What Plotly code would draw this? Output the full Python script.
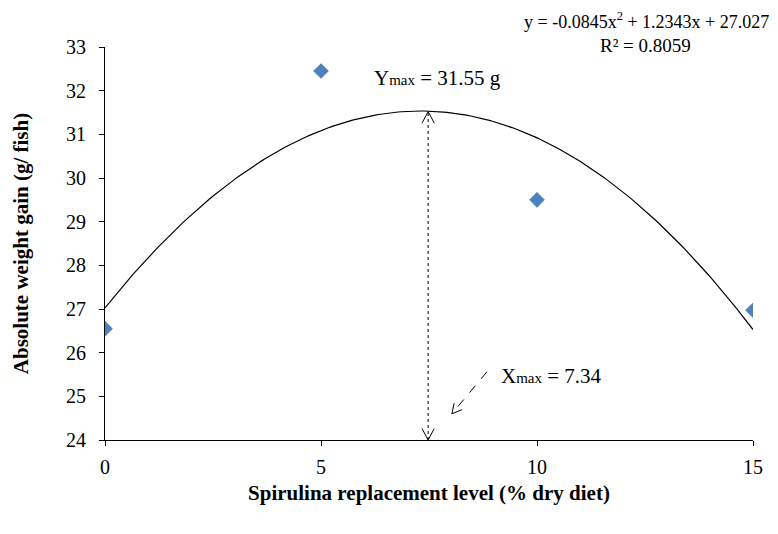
import numpy as np
import plotly.graph_objects as go

# Data
levels = [0, 5, 10, 15]
weight_gain = [26.55, 32.45, 29.5, 26.97]
# Trendline coefficients (as shown in the equation): y = a x^2 + b x + c
coef_a, coef_b, coef_c = -0.0845, 1.2343, 27.027
x_ticks = [0, 5, 10, 15]
y_ticks = [24, 25, 26, 27, 28, 29, 30, 31, 32, 33]

# annotation positions (data units)
ymax_arrow_x = 7.48
ymax_arrow_top = 31.52
xmax_arrow_start = (8.84, 25.56)
xmax_arrow_tip = (8.03, 24.6)

x_fit = np.linspace(0, 15, 200)
y_fit = coef_a * x_fit**2 + coef_b * x_fit + coef_c

fig = go.Figure()
fig.add_trace(go.Scatter(x=x_fit, y=y_fit, mode="lines",
                         line=dict(color="black", width=1.2), hoverinfo="skip"))
fig.add_trace(go.Scatter(x=levels, y=weight_gain, mode="markers",
                         marker=dict(symbol="diamond", size=12, color="#4F81BD",
                                     line=dict(width=0))))

# pixel scale for arrowheads
sx = 648 / 15.0
sy = 393 / 9.0

def vhead(tip, frm, length=13, ang=28):
    dx = (frm[0] - tip[0]) * sx
    dy = (frm[1] - tip[1]) * sy
    n = np.hypot(dx, dy)
    ux, uy = dx / n, dy / n
    out = []
    for s in (1, -1):
        a = np.radians(ang * s)
        rx = ux * np.cos(a) - uy * np.sin(a)
        ry = ux * np.sin(a) + uy * np.cos(a)
        out.append((tip[0] + rx * length / sx, tip[1] + ry * length / sy))
    return out

shapes = []
shapes.append(dict(type="line", x0=ymax_arrow_x, y0=24, x1=ymax_arrow_x, y1=ymax_arrow_top,
                   line=dict(color="black", width=1, dash="dot")))
for tip, frm in [((ymax_arrow_x, 24), (ymax_arrow_x, 25)),
                 ((ymax_arrow_x, ymax_arrow_top), (ymax_arrow_x, 30))]:
    for p in vhead(tip, frm):
        shapes.append(dict(type="line", x0=tip[0], y0=tip[1], x1=p[0], y1=p[1],
                           line=dict(color="black", width=1)))
shapes.append(dict(type="line", x0=xmax_arrow_start[0], y0=xmax_arrow_start[1],
                   x1=xmax_arrow_tip[0], y1=xmax_arrow_tip[1],
                   line=dict(color="black", width=1, dash="dash")))
for p in vhead(xmax_arrow_tip, xmax_arrow_start, length=11):
    shapes.append(dict(type="line", x0=xmax_arrow_tip[0], y0=xmax_arrow_tip[1], x1=p[0], y1=p[1],
                       line=dict(color="black", width=1)))

serif = "Liberation Serif, Times New Roman, serif"

def px(xp):
    return (xp - 105) / 648

def py(yp):
    return (440 - yp) / 393

annotations = [
    dict(x=px(372), y=py(78), xref="paper", yref="paper",
         xanchor="left", yanchor="middle", showarrow=False,
         text="Y<span style='font-size:15px'>max</span> = 31.55 g",
         font=dict(family=serif, size=21, color="black")),
    dict(x=px(499), y=py(376), xref="paper", yref="paper",
         xanchor="left", yanchor="middle", showarrow=False,
         text="X<span style='font-size:15px'>max</span> = 7.34",
         font=dict(family=serif, size=21, color="black")),
    dict(x=px(771), y=py(20), xref="paper", yref="paper",
         xanchor="right", yanchor="middle", showarrow=False,
         text="y = -0.0845x<sup>2</sup> + 1.2343x + 27.027",
         font=dict(family=serif, size=18, color="black")),
    dict(x=px(645), y=py(45), xref="paper", yref="paper",
         xanchor="center", yanchor="middle", showarrow=False,
         text="R² = 0.8059",
         font=dict(family=serif, size=19, color="black")),
]

fig.update_layout(
    width=778, height=534,
    margin=dict(l=105, r=25, t=47, b=94),
    plot_bgcolor="white", paper_bgcolor="white",
    showlegend=False,
    shapes=shapes, annotations=annotations,
    font=dict(family=serif, size=20, color="black"),
    xaxis=dict(range=[0, 15], tickvals=x_ticks, showgrid=False, zeroline=False,
               showline=True, linecolor="black", linewidth=1,
               ticks="outside", ticklen=5, tickcolor="black",
               tickfont=dict(family=serif, size=20), ticklabelstandoff=4,
               title=dict(text="<b>Spirulina replacement level (% dry diet)</b>",
                          font=dict(family=serif, size=21), standoff=8)),
    yaxis=dict(range=[24, 33], tickvals=y_ticks, showgrid=False, zeroline=False,
               showline=True, linecolor="black", linewidth=1,
               ticks="outside", ticklen=5, tickcolor="black",
               tickfont=dict(family=serif, size=20), ticklabelstandoff=9,
               title=dict(text="<b>Absolute weight gain (g/ fish)</b>",
                          font=dict(family=serif, size=21), standoff=31)),
)

fig.write_html("out.html", config={"displayModeBar": False},
               post_script="document.body.style.margin='0';")
